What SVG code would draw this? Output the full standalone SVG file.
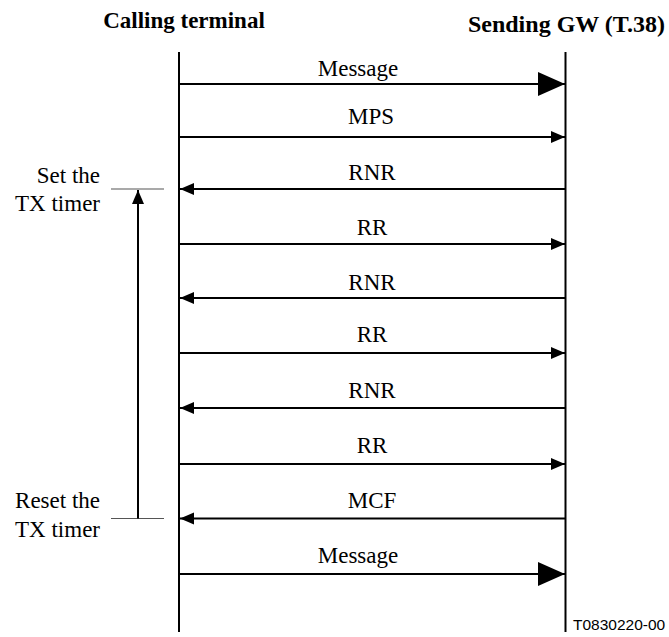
<svg xmlns="http://www.w3.org/2000/svg" width="669" height="637" viewBox="0 0 669 637">
<style>
text{font-family:"Liberation Serif","Times New Roman",Times,serif;font-size:23px;fill:#000}
.h{font-weight:bold}
.m{text-anchor:middle}
.e{text-anchor:end}
.ll{stroke:#000;stroke-width:2;fill:none}
.ar{stroke:#000;stroke-width:2;fill:none}
.tm{stroke:#555;stroke-width:1.2;fill:none}
.code{font-family:"Liberation Sans",Arial,sans-serif;font-size:15.5px}
</style>
<defs>
<marker id="big" markerUnits="userSpaceOnUse" markerWidth="28" markerHeight="26" refX="27" refY="12" orient="auto"><path d="M0,0 L27,12 L0,24 Z" fill="#000"/></marker>
<marker id="sm" markerUnits="userSpaceOnUse" markerWidth="16" markerHeight="14" refX="14" refY="6" orient="auto"><path d="M0,0 L14,6 L0,12 Z" fill="#000"/></marker>
</defs>
<g id="calling-terminal">
<text class="h m" x="184" y="28">Calling terminal</text>
<line class="ll" x1="179" y1="52" x2="179" y2="632"/>
</g>
<g id="sending-gw">
<text class="h m" x="566.5" y="32" style="font-size:24px">Sending GW (T.38)</text>
<line class="ll" x1="565.5" y1="52" x2="565.5" y2="632"/>
</g>
<g id="tx-timer">
<text class="e" x="100" y="183">Set the</text>
<text class="e" x="100" y="211">TX timer</text>
<text class="e" x="100" y="508">Reset the</text>
<text class="e" x="100" y="537">TX timer</text>
<line class="tm" x1="111" y1="189" x2="164" y2="189"/>
<line class="tm" x1="111" y1="518.5" x2="164" y2="518.5"/>
<line class="ar" x1="138" y1="518.5" x2="138" y2="190" marker-end="url(#sm)"/>
</g>
<g id="connectors">
<line class="ar" x1="179" y1="84" x2="565" y2="84" marker-end="url(#big)"/>
<line class="ar" x1="179" y1="137" x2="565" y2="137" marker-end="url(#sm)"/>
<line class="ar" x1="565" y1="189" x2="180" y2="189" marker-end="url(#sm)"/>
<line class="ar" x1="179" y1="244" x2="565" y2="244" marker-end="url(#sm)"/>
<line class="ar" x1="565" y1="298" x2="180" y2="298" marker-end="url(#sm)"/>
<line class="ar" x1="179" y1="353" x2="565" y2="353" marker-end="url(#sm)"/>
<line class="ar" x1="565" y1="408" x2="180" y2="408" marker-end="url(#sm)"/>
<line class="ar" x1="179" y1="464" x2="565" y2="464" marker-end="url(#sm)"/>
<line class="ar" x1="565" y1="518.5" x2="180" y2="518.5" marker-end="url(#sm)"/>
<line class="ar" x1="179" y1="574" x2="565" y2="574" marker-end="url(#big)"/>
<text class="m" x="358" y="76">Message</text>
<text class="m" x="371" y="124">MPS</text>
<text class="m" x="372" y="180">RNR</text>
<text class="m" x="372" y="235">RR</text>
<text class="m" x="372" y="290">RNR</text>
<text class="m" x="372" y="342">RR</text>
<text class="m" x="372" y="398">RNR</text>
<text class="m" x="372" y="453">RR</text>
<text class="m" x="372" y="508">MCF</text>
<text class="m" x="358" y="563">Message</text>
</g>
<text class="code" x="573" y="630">T0830220-00</text>
</svg>
